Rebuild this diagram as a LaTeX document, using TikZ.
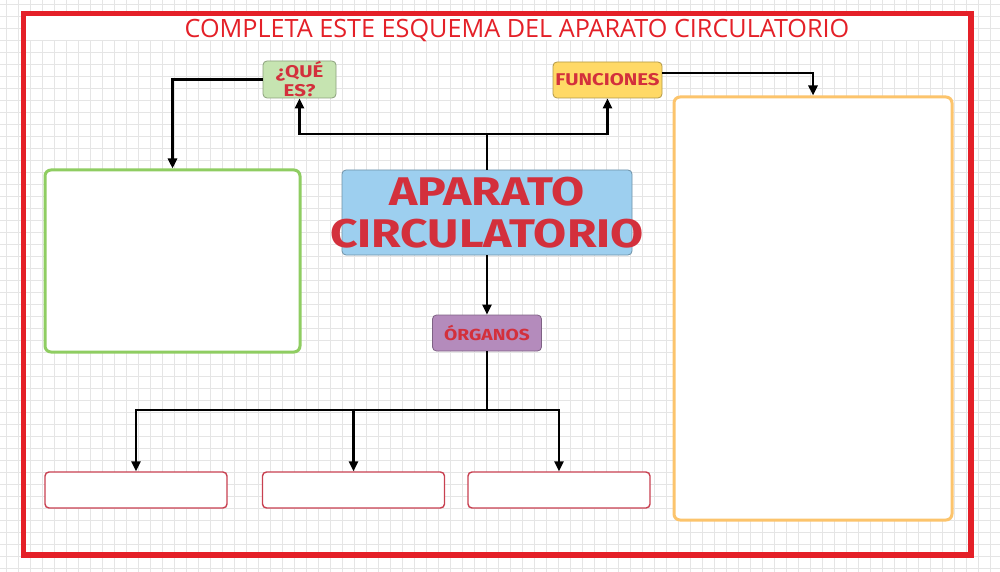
\documentclass[tikz,border=0pt]{standalone}
\usepackage{fontspec}
\setmainfont{Open Sans}
\newfontfamily\comicfont{Fira Sans}[FakeStretch=1.2]
\usetikzlibrary{arrows.meta}

\definecolor{framered}{HTML}{E42028}
\definecolor{textred}{HTML}{D3303C}
\definecolor{quefill}{HTML}{C6E4B1}
\definecolor{funfill}{HTML}{FFD966}
\definecolor{apcfill}{HTML}{9DCFEF}
\definecolor{orgfill}{HTML}{B48BBC}
\definecolor{greenline}{HTML}{8FCD62}
\definecolor{orangeline}{HTML}{FCC46C}
\definecolor{boxred}{HTML}{C84050}

\begin{document}
\begin{tikzpicture}[%
        x = 0.5pt, y = -0.5pt,
        gridline/.style = {draw=black!10, line width=0.4pt},
        tag/.style = {rounded corners=2pt, draw=#1!70!black, fill=#1, text=textred,
            font=\comicfont\bfseries\fontsize{8.5}{8}\selectfont, align=center,
            inner sep=0pt, minimum width=54.5pt, minimum height=18pt},
        bigbox/.style = {rounded corners=3pt, draw=#1, line width=1.5pt, fill=white, inner sep=0pt},
        answer/.style = {rounded corners=2pt, draw=boxred, line width=0.7pt, fill=white,
            inner sep=0pt, minimum width=91pt, minimum height=18pt},
        arr/.style = {draw=black, line width=1.4pt, -{Triangle[length=5pt,width=4.5pt]}}
    ]
      \useasboundingbox (0,0) rectangle (1000,572);
      \fill [white] (0,0) rectangle (1000,572);
      \foreach \gx in {6,18,...,1000} \draw [gridline] (\gx,0) -- (\gx,572);
      \foreach \gy in {4,16,...,572} \draw [gridline] (0,\gy) -- (1000,\gy);
      \fill [white] (26,16) rectangle (968,40);
      \draw [color=framered, line width=2.6pt] (23.5,13.5) rectangle (971,555);
      \node (t) at (517,31) {\color{framered}\fontsize{12.6}{14}\selectfont COMPLETA ESTE ESQUEMA DEL APARATO CIRCULATORIO};

      \node (apc) at (487,212.5) [tag=apcfill, minimum width=145pt, minimum height=42.5pt, inner xsep=-8pt,
          font=\comicfont\bfseries\fontsize{20}{21}\selectfont] {APARATO\\CIRCULATORIO};
      \node (que) at (299.5,79.5) [tag=quefill, minimum width=36.5pt, minimum height=18.5pt,
          font=\comicfont\bfseries\fontsize{8.5}{9.5}\selectfont] {¿QUÉ\\ES?};
      \node (fun) at (607.5,80) [tag=funfill] {FUNCIONES};
      \node (org) at (487,333) [tag=orgfill, font=\comicfont\bfseries\fontsize{8}{8}\selectfont] {ÓRGANOS};

      \node (def) at (172.5,261) [bigbox=greenline, minimum width=127.5pt, minimum height=91pt] {};
      \node (use) at (813,308.5) [bigbox=orangeline, minimum width=139pt, minimum height=211.5pt] {};
      \node (o1) at (136,490) [answer] {};
      \node (o2) at (353.5,490) [answer] {};
      \node (o3) at (559,490) [answer] {};

      \coordinate (top) at (487,134);
      \coordinate (low) at (487,410);
      \draw [arr] (apc.north) -- (top) -| (que.south);
      \draw [arr] (top) -| (fun.south);
      \draw [arr] (que.west) -| (def.north);
      \draw [arr] ([yshift=3.5pt]fun.east) -| (use.north);
      \draw [arr] (apc.south) -- (org.north);
      \draw [line width=1.4pt] (org.south) -- (low);
      \draw [arr] (low) -| (o1.north);
      \draw [arr] (low) -| (o2.north);
      \draw [arr] (low) -| (o3.north);
    \end{tikzpicture}
\end{document}
